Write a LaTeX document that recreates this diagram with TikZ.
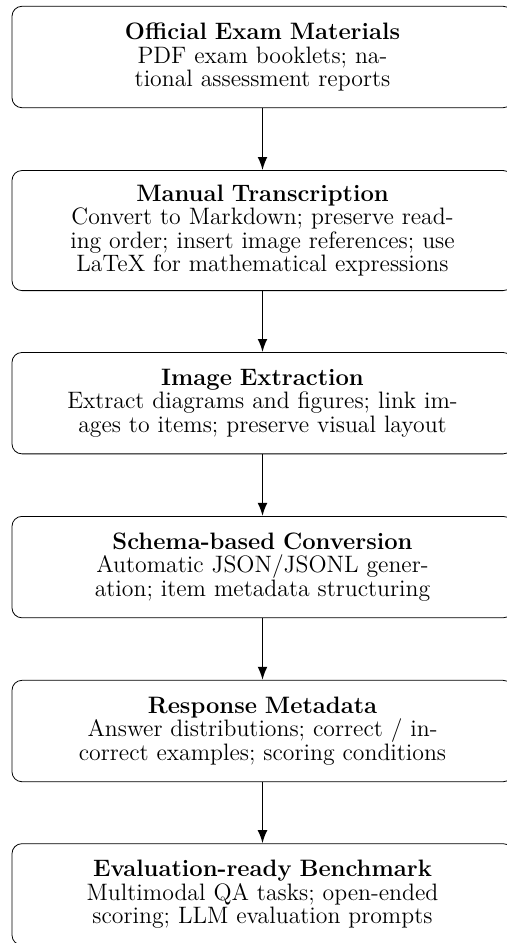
\documentclass[tikz,border=0pt]{standalone}
\usepackage{tikz}
\usetikzlibrary{arrows.meta}

\tikzset{
  stage/.style={draw, rounded corners=5pt, text width=8.5cm, align=center,
    font=\fontsize{12}{11.8}\selectfont,
    inner xsep=5.6pt, inner ysep=7.3pt, minimum height=1.8cm},
  flow/.style={-{Latex}, thick}
}

\begin{document}
\begin{tikzpicture}
  \useasboundingbox (0,0) rectangle (8.99,-16.74);
  \foreach \l/\d/\y [count=\i] in {Official Exam Materials/{PDF exam booklets; national assessment reports}/-0.105,
  Manual Transcription/{Convert to Markdown; preserve reading order; insert image references; use LaTeX for mathematical expressions}/-3.02,
  Image Extraction/{Extract diagrams and figures; link images to items; preserve visual layout}/-6.25,
  Schema-based Conversion/{Automatic JSON/JSONL generation; item metadata structuring}/-9.16,
  Response Metadata/{Answer distributions; correct / incorrect examples; scoring conditions}/-12.07,
  Evaluation-ready Benchmark/{Multimodal QA tasks; open-ended scoring; LLM evaluation prompts}/-14.97}
  {\node[stage, anchor=north] (step\i) at (4.66,\y) {\textbf{\l}\\ \d};}
  % arrows between the stages
  \foreach \i [count=\j from 2] in {1,...,5}
  {\draw[flow] (step\i) -- (step\j);}
\end{tikzpicture}
\end{document}
